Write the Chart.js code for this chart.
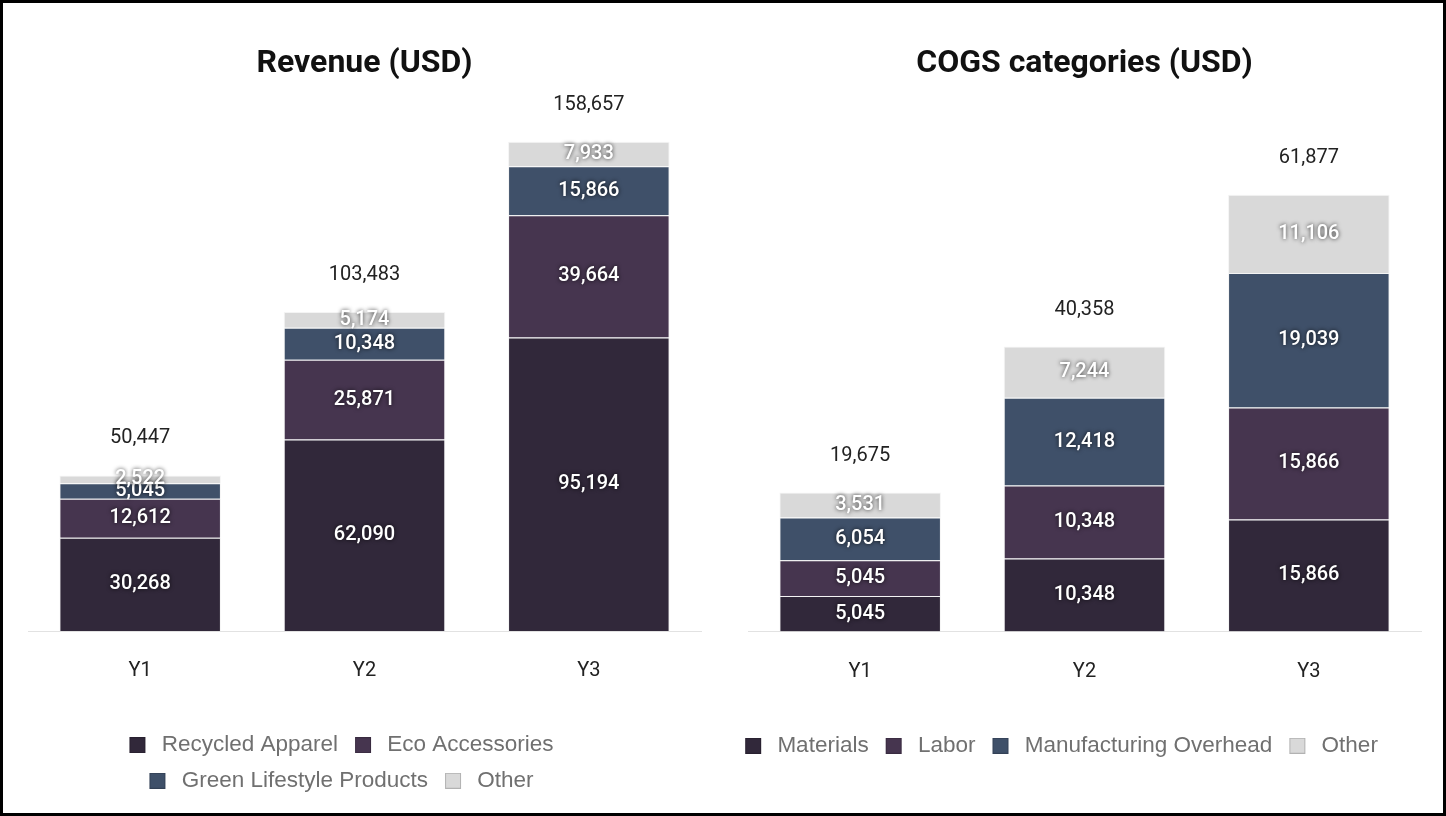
<!DOCTYPE html>
<html lang="en">
<head>
    <meta charset="UTF-8">
    <title>Revenue and COGS (USD)</title>
    <script src="https://cdnjs.cloudflare.com/ajax/libs/Chart.js/4.4.0/chart.umd.min.js"></script>
    <style>
        html, body { margin: 0; padding: 0; background: #fff; }
        .frame {
            width: 1446px;
            height: 816px;
            box-sizing: border-box;
            border: 3px solid #000;
            display: flex;
        }
        .panel { position: relative; width: 720px; height: 810px; }
    </style>
</head>
<body>
    <div class="frame">
        <div class="panel"><canvas id="revenueChart"></canvas></div>
        <div class="panel"><canvas id="cogsChart"></canvas></div>
    </div>
    <script>
        // Data
        const years = ['Y1', 'Y2', 'Y3'];

        const recycledApparel = [30268, 62090, 95194];
        const ecoAccessories = [12612, 25871, 39664];
        const greenLifestyle = [5045, 10348, 15866];
        const revenueOther = [2522, 5174, 7933];

        const materials = [5045, 10348, 15866];
        const labor = [5045, 10348, 15866];
        const overhead = [6054, 12418, 19039];
        const cogsOther = [3531, 7244, 11106];

        const palette = ['#31283a', '#46354f', '#3f5069', '#d9d9d9'];

        // legend swatch: 16px square with a little space on its left
        function swatch(color) {
            const c = document.createElement('canvas');
            c.width = 25;
            c.height = 16;
            const g = c.getContext('2d');
            g.fillStyle = color;
            g.fillRect(4, 0, 16, 16);
            g.strokeStyle = 'rgba(0,0,0,0.18)';
            g.strokeRect(4.5, 0.5, 15, 15);
            return c;
        }
        const swatches = palette.map(swatch);

        // value labels inside the segments + totals on top
        const barLabels = {
            id: 'barLabels',
            afterDatasetsDraw(chart) {
                const ctx = chart.ctx;
                const sets = chart.data.datasets;
                ctx.save();
                ctx.textAlign = 'center';
                ctx.textBaseline = 'middle';
                ctx.font = '500 20px Roboto';
                ctx.fillStyle = '#fff';
                ctx.shadowColor = 'rgba(0,0,0,0.8)';
                ctx.shadowBlur = 4;
                sets.forEach((ds, i) => {
                    chart.getDatasetMeta(i).data.forEach((bar, j) => {
                        const p = bar.getProps(['x', 'y', 'base'], true);
                        ctx.fillText(ds.data[j].toLocaleString('en-US'), p.x, (p.y + p.base) / 2);
                    });
                });
                ctx.shadowColor = 'transparent';
                ctx.shadowBlur = 0;
                ctx.font = '20px Roboto';
                ctx.fillStyle = '#222';
                chart.getDatasetMeta(sets.length - 1).data.forEach((bar, j) => {
                    const total = sets.reduce((s, ds) => s + ds.data[j], 0);
                    ctx.fillText(total.toLocaleString('en-US'), bar.x, bar.y - 37);
                });
                ctx.restore();
            }
        };

        // the legend sits a bit left of the plot centre
        const legendShift = {
            id: 'legendShift',
            afterLayout(chart) {
                chart.legend.left -= 25;
                chart.legend.right -= 25;
            }
        };

        function makeChart(id, title, names, series, yMax, padBottom) {
            const datasets = names.map((name, i) => ({
                label: name,
                data: series[i],
                backgroundColor: palette[i],
                borderColor: 'rgba(200,200,200,0.2)',
                borderWidth: 1
            }));
            return new Chart(document.getElementById(id), {
                type: 'bar',
                data: { labels: years, datasets: datasets },
                options: {
                    responsive: true,
                    maintainAspectRatio: false,
                    animation: false,
                    layout: { padding: { top: 20, left: 25, right: 22, bottom: padBottom } },
                    scales: {
                        x: {
                            stacked: true,
                            grid: { display: false, drawTicks: false },
                            border: { color: '#e2e2e2' },
                            ticks: { color: '#222', padding: 28, font: { family: 'Roboto', size: 20 } },
                            afterFit: (axis) => { axis.height = 90; }
                        },
                        y: { stacked: true, display: false, min: 0, max: yMax }
                    },
                    plugins: {
                        title: {
                            display: true,
                            text: title,
                            color: '#111',
                            font: { family: 'Roboto', size: 32, weight: 'bold' },
                            padding: { top: 22, bottom: 8 }
                        },
                        legend: {
                            position: 'bottom',
                            labels: {
                                usePointStyle: true,
                                pointStyleWidth: 25,
                                boxHeight: 16,
                                padding: 13,
                                color: '#707070',
                                font: { family: 'Liberation Sans', size: 22.5 },
                                generateLabels: (chart) =>
                                    Chart.defaults.plugins.legend.labels.generateLabels(chart)
                                        .map((item, i) => Object.assign(item, { pointStyle: swatches[i] }))
                            }
                        },
                        tooltip: { enabled: false }
                    }
                },
                plugins: [barLabels, legendShift]
            });
        }

        makeChart('revenueChart', 'Revenue (USD)',
            ['Recycled Apparel', 'Eco Accessories', 'Green Lifestyle Products', 'Other'],
            [recycledApparel, ecoAccessories, greenLifestyle, revenueOther], 175000, 11);

        makeChart('cogsChart', 'COGS categories (USD)',
            ['Materials', 'Labor', 'Manufacturing Overhead', 'Other'],
            [materials, labor, overhead, cogsOther], 76500, 46);
    </script>
</body>
</html>
